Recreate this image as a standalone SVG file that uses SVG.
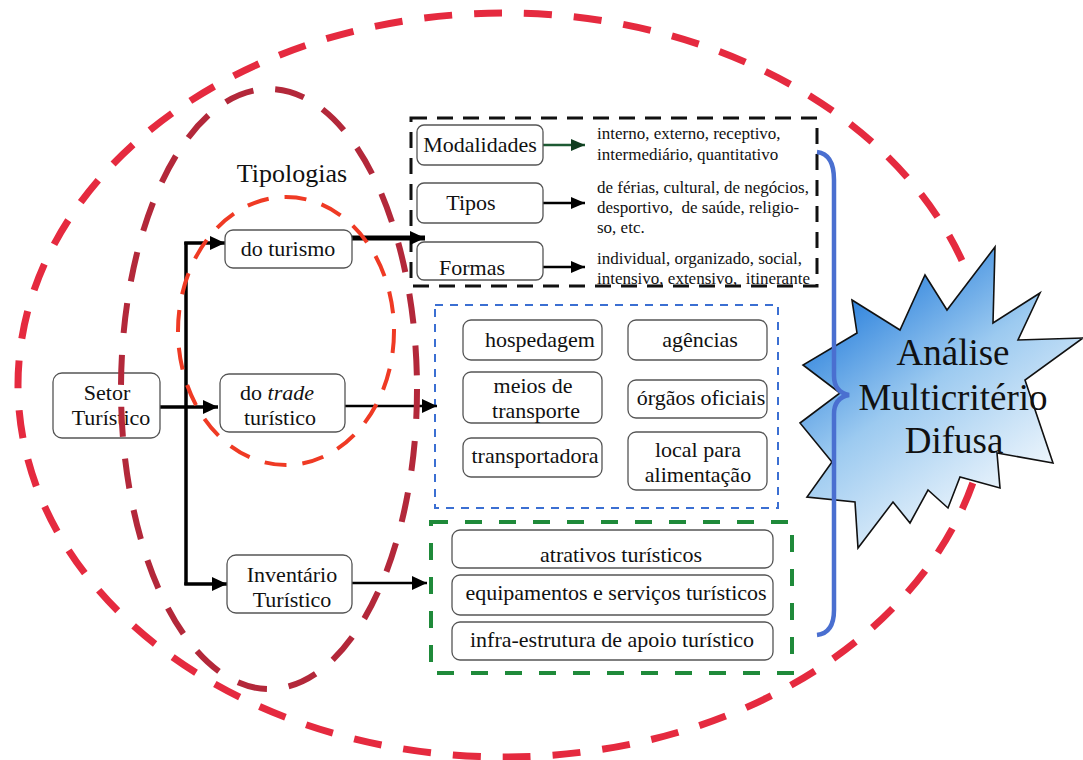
<svg xmlns="http://www.w3.org/2000/svg" width="1083" height="760" viewBox="0 0 1083 760">
  <defs>
    <style>
      .box { fill: #fff; stroke: #555; stroke-width: 1.3; }
      .lbl { font-family: "Times New Roman", "Liberation Serif", "DejaVu Serif", "Noto Serif", serif; font-size: 22px; text-anchor: middle; fill: #111; }
      .small { font-family: "Times New Roman", "Liberation Serif", "DejaVu Serif", "Noto Serif", serif; font-size: 17px; fill: #111; }
      .star-txt { font-family: "Times New Roman", "Liberation Serif", "DejaVu Serif", "Noto Serif", serif; font-size: 37px; text-anchor: middle; fill: #111; }
      .link { fill: none; stroke: #000; stroke-width: 3.5; }
      .thin-link { fill: none; stroke: #000; stroke-width: 2.5; }
    </style>
    <marker id="arrow" markerUnits="userSpaceOnUse" markerWidth="15" markerHeight="14" refX="15" refY="7" orient="auto">
      <path d="M0,0 L15,7 L0,14 z" fill="#000"/>
    </marker>
    <marker id="arrow-sm" markerUnits="userSpaceOnUse" markerWidth="14" markerHeight="12" refX="14" refY="6" orient="auto">
      <path d="M0,0 L14,6 L0,12 z" fill="#000"/>
    </marker>
    <marker id="arrow-green" markerUnits="userSpaceOnUse" markerWidth="14" markerHeight="12" refX="14" refY="6" orient="auto">
      <path d="M0,0 L14,6 L0,12 z" fill="#0f3d1f"/>
    </marker>
    <linearGradient id="starFill" x1="850" y1="290" x2="1010" y2="510" gradientUnits="userSpaceOnUse">
      <stop offset="0" stop-color="#2a80dc"/>
      <stop offset="0.45" stop-color="#9ccaf0"/>
      <stop offset="1" stop-color="#f4f9fd"/>
    </linearGradient>
  </defs>

  <rect width="1083" height="760" fill="#fff"/>

  <!-- grouping frames -->
  <g id="frame-tipologias">
    <rect x="411" y="118" width="406" height="168" fill="none" stroke="#111" stroke-width="3" stroke-dasharray="16 10"/>
  </g>
  <g id="frame-trade">
    <rect x="435" y="305" width="343" height="203" fill="none" stroke="#3b6fd2" stroke-width="2" stroke-dasharray="8 7"/>
  </g>
  <g id="frame-inventario">
    <rect x="431" y="522" width="361" height="151" fill="none" stroke="#1f8a3a" stroke-width="4" stroke-dasharray="17 17"/>
  </g>

  <!-- connectors -->
  <g id="connectors">
    <path class="link" d="M160,407 L218,407" marker-end="url(#arrow)"/>
    <path class="link" d="M186,242 L186,585"/>
    <path class="link" d="M184.3,243 L225,243" marker-end="url(#arrow)"/>
    <path class="link" d="M184.3,584 L227,584" marker-end="url(#arrow)"/>
    <path d="M352,238 L425,238" fill="none" stroke="#000" stroke-width="5" marker-end="url(#arrow)"/>
    <path class="thin-link" d="M345,406 L437,406" marker-end="url(#arrow)"/>
    <path class="thin-link" d="M352,583 L427,583" marker-end="url(#arrow)"/>
    <path d="M543,145 L585,145" fill="none" stroke="#1d5a33" stroke-width="2.5" marker-end="url(#arrow-green)"/>
    <path class="thin-link" d="M543,203 L585,203" marker-end="url(#arrow-sm)"/>
    <path class="thin-link" d="M543,267 L585,267" marker-end="url(#arrow-sm)"/>
  </g>

  <!-- main branch nodes -->
  <g id="setor">
    <rect class="box" x="53" y="373" width="107" height="65" rx="9"/>
    <text class="lbl" x="107" y="400">Setor</text>
    <text class="lbl" x="111" y="425">Turístico</text>
  </g>
  <g id="tipologias-label">
    <text class="lbl" font-size="26" style="font-size: 26px" x="292" y="182">Tipologias</text>
  </g>
  <g id="do-turismo">
    <rect class="box" x="225" y="230" width="127" height="38" rx="8"/>
    <text class="lbl" x="288" y="256">do turismo</text>
  </g>
  <g id="do-trade">
    <rect class="box" x="220" y="374" width="125" height="58" rx="9"/>
    <text class="lbl" x="277" y="400">do <tspan font-style="italic">trade</tspan></text>
    <text class="lbl" x="280" y="425">turístico</text>
  </g>
  <g id="inventario">
    <rect class="box" x="227" y="555" width="125" height="58" rx="9"/>
    <text class="lbl" x="292" y="582">Inventário</text>
    <text class="lbl" x="292" y="607">Turístico</text>
  </g>

  <!-- tipologias do turismo -->
  <g id="modalidades">
    <rect class="box" x="417" y="125" width="126" height="40" rx="7"/>
    <text class="lbl" x="480" y="152">Modalidades</text>
    <text class="small" x="597" y="139">interno, externo, receptivo,</text>
    <text class="small" x="597" y="160">intermediário, quantitativo</text>
  </g>
  <g id="tipos">
    <rect class="box" x="417" y="183" width="126" height="40" rx="7"/>
    <text class="lbl" x="471" y="210">Tipos</text>
    <text class="small" x="597" y="193">de férias, cultural, de negócios,</text>
    <text class="small" x="597" y="213">desportivo,&#160; de saúde, religio-</text>
    <text class="small" x="597" y="233">so, etc.</text>
  </g>
  <g id="formas">
    <rect class="box" x="417" y="242" width="126" height="38" rx="7"/>
    <text class="lbl" x="472" y="275">Formas</text>
    <text class="small" x="597" y="264">individual, organizado, social,</text>
    <text class="small" x="597" y="284">intensivo, extensivo,&#160; itinerante</text>
  </g>

  <!-- trade turístico -->
  <g id="hospedagem">
    <rect class="box" x="463" y="320" width="139" height="40" rx="8"/>
    <text class="lbl" x="540" y="347">hospedagem</text>
  </g>
  <g id="agencias">
    <rect class="box" x="628" y="320" width="139" height="40" rx="8"/>
    <text class="lbl" x="700" y="347">agências</text>
  </g>
  <g id="meios-transporte">
    <rect class="box" x="463" y="372" width="139" height="51" rx="8"/>
    <text class="lbl" x="533" y="393">meios de</text>
    <text class="lbl" x="536" y="418">transporte</text>
  </g>
  <g id="orgaos-oficiais">
    <rect class="box" x="628" y="380" width="139" height="38" rx="8"/>
    <text class="lbl" x="701" y="405">órgãos oficiais</text>
  </g>
  <g id="transportadora">
    <rect class="box" x="463" y="438" width="139" height="39" rx="8"/>
    <text class="lbl" x="535" y="463">transportadora</text>
  </g>
  <g id="local-alimentacao">
    <rect class="box" x="628" y="432" width="139" height="58" rx="8"/>
    <text class="lbl" x="698" y="457">local para</text>
    <text class="lbl" x="698" y="482">alimentação</text>
  </g>

  <!-- inventário turístico -->
  <g id="atrativos">
    <rect class="box" x="452" y="530" width="321" height="38" rx="8"/>
    <text class="lbl" x="621" y="562">atrativos turísticos</text>
  </g>
  <g id="equipamentos">
    <rect class="box" x="452" y="575" width="321" height="40" rx="8"/>
    <text class="lbl" x="616" y="600">equipamentos e serviços turísticos</text>
  </g>
  <g id="infraestrutura">
    <rect class="box" x="452" y="622" width="321" height="38" rx="8"/>
    <text class="lbl" x="612" y="647">infra-estrutura de apoio turístico</text>
  </g>

  <!-- nested scope regions -->
  <g id="scope-regions" fill="none">
    <ellipse cx="286" cy="331" rx="108" ry="134" stroke="#ef3a24" stroke-width="4" stroke-dasharray="22 16"/>
    <ellipse cx="269" cy="389" rx="148" ry="300" stroke="#b3283a" stroke-width="6" stroke-dasharray="30 22"/>
    <ellipse cx="504" cy="385" rx="486" ry="372" stroke="#e52a3f" stroke-width="7" stroke-dasharray="28 22"/>
  </g>

  <!-- fuzzy multicriteria analysis burst -->
  <g id="analise">
    <polygon points="852,300 900,330 925,275 947,310 995,247 993,323 1040,293 1018,340 1083,338 1025,380 1053,463 997,453 1000,488 960,477 948,508 928,490 910,523 893,502 858,548 855,502 807,497 832,462 800,423 840,393 803,365 857,333" fill="url(#starFill)" stroke="#111" stroke-width="1.6" stroke-linejoin="miter"/>
    <path d="M817,152 Q834,154 834,180 L834,376 Q834,392 849,395 Q834,398 834,414 L834,610 Q834,633 817,635" fill="none" stroke="#4a6fd0" stroke-width="4.5"/>
    <text class="star-txt" x="953" y="365">Análise</text>
    <text class="star-txt" x="953" y="410">Multicritério</text>
    <text class="star-txt" x="954" y="453">Difusa</text>
  </g>
</svg>
